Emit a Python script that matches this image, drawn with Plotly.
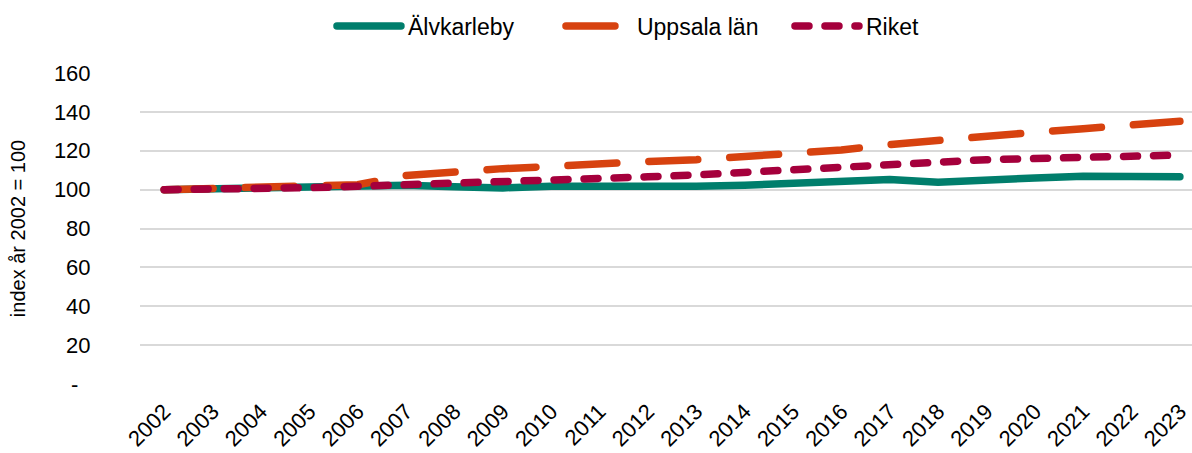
import plotly.graph_objects as go

years = [str(y) for y in range(2002, 2024)]
alvkarleby = [100, 100.4, 100.8, 101.2, 101.5, 102.3, 101.5, 100.9, 101.8, 101.6, 101.3,
              101.8, 102.3, 103.0, 104.6, 105.2, 103.8, 105.2, 106.0, 106.9, 107.0, 106.6]
uppsala = [100, 100.5, 101.0, 101.4, 102.5, 107.3, 109.3, 110.8, 111.9, 113.4, 114.5,
           115.4, 116.8, 118.5, 120.4, 123.2, 125.6, 127.8, 129.5, 131.3, 133.2, 135.2]
riket = [100, 100.1, 100.5, 101.0, 101.7, 102.4, 103.1, 103.9, 104.8, 105.7, 106.6,
         107.6, 109.0, 110.0, 111.6, 112.9, 114.0, 115.4, 116.0, 116.6, 117.3, 117.8]
y_tickvals = [0, 20, 40, 60, 80, 100, 120, 140, 160]
y_ticktext = ["-\u00a0\u00a0", "20", "40", "60", "80", "100", "120", "140", "160"]
series_names = ["Älvkarleby", "Uppsala län", "Riket"]

FONT = "Liberation Sans, Arial, sans-serif"
GREEN = "#007E6C"
ORANGE = "#D7420F"
CRIMSON = "#A5003C"
LW = 7.5

fig = go.Figure()
fig.add_trace(go.Scatter(x=years, y=alvkarleby, name=series_names[0], mode="lines",
                         line=dict(color=GREEN, width=LW)))
fig.add_trace(go.Scatter(x=years, y=uppsala, name=series_names[1], mode="lines",
                         line=dict(color=ORANGE, width=LW, dash="49px,32px")))
fig.add_trace(go.Scatter(x=years, y=riket, name=series_names[2], mode="lines",
                         line=dict(color=CRIMSON, width=LW, dash="14px,16px")))

fig.update_layout(
    width=1192, height=453,
    margin=dict(l=140, r=0, t=73, b=69),
    paper_bgcolor="white", plot_bgcolor="white",
    font=dict(family=FONT, color="#000000", size=22),
    showlegend=True,
    legend=dict(orientation="h", xref="container", yref="container",
                x=0.3087, xanchor="left", y=0.99, yanchor="top",
                font=dict(size=23, family=FONT, color="#000000"),
                entrywidth=184, traceorder="normal"),
    xaxis=dict(type="category", range=[-0.5, 21.25], tickangle=-45,
               showgrid=False, zeroline=False, showline=False,
               ticks="outside", ticklen=5, tickcolor="rgba(0,0,0,0)",
               tickfont=dict(size=22, family=FONT), automargin=False),
    yaxis=dict(range=[0, 160], tickvals=y_tickvals, ticktext=y_ticktext,
               showgrid=True, gridcolor="#D9D9D9", gridwidth=1.6,
               zeroline=False, showline=False,
               ticks="outside", ticklen=44, tickcolor="rgba(0,0,0,0)",
               tickfont=dict(size=22, family=FONT), automargin=False,
               title=dict(text="index år 2002 = 100", standoff=22,
                          font=dict(size=20, family=FONT))),
)

post = """
document.body.style.margin = '0';
document.body.style.padding = '0';
var gd = document.getElementById('{plot_id}');
function caps(){
  gd.querySelectorAll('path.js-line, .scatterlayer path').forEach(function(p){
    p.style.strokeLinecap='round'; p.style.strokeLinejoin='round';
  });
  gd.querySelectorAll('.legend [clip-path]').forEach(function(e){
    e.removeAttribute('clip-path');
  });
  gd.querySelectorAll('.legendlines path').forEach(function(p){
    p.setAttribute('d', 'M-31,0h64');
    p.style.strokeLinecap='round';
  });
}
caps();
gd.on && gd.on('plotly_afterplot', caps);
"""
fig.write_html("out.html", post_script=post, config={"displayModeBar": False})
